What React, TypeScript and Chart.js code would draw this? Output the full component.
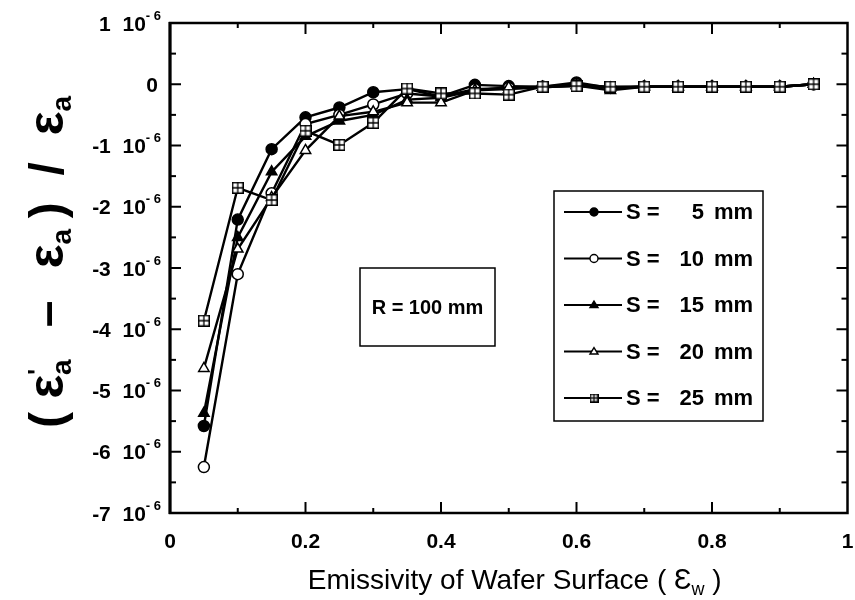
import { useEffect, useRef } from 'react';
import { Chart, registerables } from 'chart.js';

Chart.register(...registerables);

// Wafer surface emissivity (x axis)
const emissivity = [0.05, 0.1, 0.15, 0.2, 0.25, 0.3, 0.35, 0.4, 0.45, 0.5, 0.55, 0.6, 0.65, 0.7, 0.75, 0.8, 0.85, 0.9, 0.95];

// Relative apparent-emissivity error, in units of 10^-6
const s5 = [-5.58, -2.21, -1.06, -0.54, -0.38, -0.13, -0.08, -0.2, -0.01, -0.03, -0.04, 0.03, -0.06, -0.04, -0.04, -0.04, -0.04, -0.04, 0.0];
const s10 = [-6.25, -3.1, -1.78, -0.65, -0.5, -0.33, -0.15, -0.2, -0.08, -0.06, -0.04, 0.0, -0.05, -0.04, -0.04, -0.04, -0.04, -0.04, 0.0];
const s15 = [-5.37, -2.5, -1.43, -0.85, -0.6, -0.5, -0.25, -0.22, -0.1, -0.08, -0.05, -0.02, -0.1, -0.04, -0.04, -0.04, -0.04, -0.04, 0.0];
const s20 = [-4.64, -2.69, -1.85, -1.08, -0.52, -0.45, -0.3, -0.3, -0.1, -0.05, -0.05, -0.02, -0.06, -0.04, -0.04, -0.04, -0.04, -0.04, 0.0];
const s25 = [-3.86, -1.69, -1.89, -0.76, -0.99, -0.63, -0.07, -0.15, -0.15, -0.17, -0.04, -0.03, -0.04, -0.04, -0.04, -0.04, -0.04, -0.04, 0.0];

// Spacing S (mm) for each series
const spacingLabels = ['5', '10', '15', '20', '25'];

// Axis tick labels
const xTickLabels = ['0', '0.2', '0.4', '0.6', '0.8', '1'];
const yTickValues = [1, 0, -1, -2, -3, -4, -5, -6, -7];
const yExponent = '- 6';

const radiusLabel = 'R = 100 mm';

const FONT = '"Liberation Sans", Arial, Helvetica, sans-serif';

type Marker = 'filledCircle' | 'openCircle' | 'filledTriangle' | 'openTriangle' | 'boxCross';

function makeBoxCross(size: number): HTMLCanvasElement {
  const c = document.createElement('canvas');
  c.width = size;
  c.height = size;
  const g = c.getContext('2d')!;
  g.fillStyle = '#fff';
  g.fillRect(0, 0, size, size);
  g.strokeStyle = '#000';
  g.lineWidth = 1.5;
  g.strokeRect(0.75, 0.75, size - 1.5, size - 1.5);
  g.lineWidth = 1.3;
  g.beginPath();
  g.moveTo(size / 2, 1);
  g.lineTo(size / 2, size - 1);
  g.moveTo(1, size / 2);
  g.lineTo(size - 1, size / 2);
  g.stroke();
  return c;
}

function drawMarker(ctx: CanvasRenderingContext2D, kind: Marker, x: number, y: number, r: number, box: HTMLCanvasElement) {
  ctx.save();
  ctx.lineWidth = 1.4;
  ctx.strokeStyle = '#000';
  if (kind === 'filledCircle' || kind === 'openCircle') {
    ctx.beginPath();
    ctx.arc(x, y, r, 0, Math.PI * 2);
    ctx.fillStyle = kind === 'filledCircle' ? '#000' : '#fff';
    ctx.fill();
    ctx.stroke();
  } else if (kind === 'filledTriangle' || kind === 'openTriangle') {
    const h = r * 1.6;
    ctx.beginPath();
    ctx.moveTo(x, y - h * 0.6);
    ctx.lineTo(x + r, y + h * 0.4);
    ctx.lineTo(x - r, y + h * 0.4);
    ctx.closePath();
    ctx.fillStyle = kind === 'filledTriangle' ? '#000' : '#fff';
    ctx.fill();
    ctx.stroke();
  } else {
    ctx.drawImage(box, x - box.width / 2, y - box.height / 2);
  }
  ctx.restore();
}

// A run of text pieces; `gap` adds spacing weight after the piece,
// `overlapNext` keeps the pen in place so the next piece stacks on it.
type Part = { t: string; size: number; dy?: number; bold?: boolean; overlapNext?: boolean; gap?: number };

function fontOf(p: Part) {
  return `${p.bold ? 'bold ' : ''}${p.size}px ${FONT}`;
}

function glyphWidth(ctx: CanvasRenderingContext2D, parts: Part[]) {
  let w = 0;
  for (const p of parts) {
    ctx.font = fontOf(p);
    if (!p.overlapNext) w += ctx.measureText(p.t).width;
  }
  return w;
}

function drawParts(ctx: CanvasRenderingContext2D, parts: Part[], x: number, baseline: number, gapUnit = 0) {
  let cx = x;
  for (const p of parts) {
    ctx.font = fontOf(p);
    ctx.fillText(p.t, cx, baseline + (p.dy || 0));
    if (!p.overlapNext) cx += ctx.measureText(p.t).width;
    cx += (p.gap || 0) * gapUnit;
  }
}

export default function App() {
  const canvasRef = useRef<HTMLCanvasElement | null>(null);

  useEffect(() => {
    const canvas = canvasRef.current;
    if (!canvas) return;
    const boxCross = makeBoxCross(12);
    const legendBox = makeBoxCross(9);

    const series: number[][] = [s5, s10, s15, s20, s25];
    const markers: Marker[] = ['filledCircle', 'openCircle', 'filledTriangle', 'openTriangle', 'boxCross'];

    const datasets = series.map((vals, i) => {
      const m = markers[i];
      const filled = m === 'filledCircle' || m === 'filledTriangle';
      return {
        label: `S = ${spacingLabels[i]} mm`,
        data: vals.map((v, j) => ({ x: emissivity[j], y: v })),
        borderColor: '#000',
        borderWidth: 2.4,
        pointStyle: m === 'boxCross' ? boxCross : m.includes('Circle') ? 'circle' : 'triangle',
        pointRadius: m.includes('Triangle') ? 6 : 5.5,
        pointBorderWidth: 1.5,
        pointBorderColor: '#000',
        pointBackgroundColor: filled ? '#000' : '#fff',
        tension: 0,
        order: m === 'boxCross' ? 0 : 5 - i,
      };
    });

    const decorations = {
      id: 'decorations',
      afterDraw(chart: any) {
        const { ctx, chartArea: a } = chart;
        const xs = chart.scales.x;
        const ys = chart.scales.y;
        ctx.save();
        ctx.strokeStyle = '#000';
        ctx.fillStyle = '#000';

        const seg = (x1: number, y1: number, x2: number, y2: number) => {
          ctx.beginPath();
          ctx.moveTo(x1, y1);
          ctx.lineTo(x2, y2);
          ctx.stroke();
        };

        // inward ticks on all four sides
        ctx.lineWidth = 2;
        for (const t of xs.ticks) {
          const v = t.value;
          if (v <= 0 || v >= 1) continue;
          const px = xs.getPixelForValue(v);
          const major = Math.abs(v * 5 - Math.round(v * 5)) < 1e-6;
          const len = major ? 11 : 5;
          seg(px, a.bottom, px, a.bottom - len);
          seg(px, a.top, px, a.top + len);
        }
        for (const t of ys.ticks) {
          const v = t.value;
          if (v <= -7 || v >= 1) continue;
          const py = ys.getPixelForValue(v);
          const major = Math.abs(v - Math.round(v)) < 1e-6;
          const len = major ? 11 : 6;
          seg(a.left, py, a.left + len, py);
          seg(a.right, py, a.right - len, py);
        }

        // frame
        ctx.lineWidth = 2.5;
        ctx.strokeRect(a.left, a.top, a.right - a.left, a.bottom - a.top);
        ctx.lineWidth = 3;
        seg(a.left, a.top - 1, a.left, a.bottom + 1);

        // x tick labels
        ctx.font = `bold 21px ${FONT}`;
        ctx.textAlign = 'center';
        ctx.textBaseline = 'middle';
        xTickLabels.forEach((lab, i) => {
          const px = xs.getPixelForValue(i * 0.2);
          ctx.fillText(lab, px, 542);
        });

        // y tick labels with power-of-ten suffix
        ctx.textBaseline = 'alphabetic';
        ctx.textAlign = 'left';
        for (const v of yTickValues) {
          const py = ys.getPixelForValue(v);
          const base = py + 7.5;
          if (v === 0) {
            ctx.font = `bold 21px ${FONT}`;
            ctx.textAlign = 'right';
            ctx.fillText('0', 158, base);
            ctx.textAlign = 'left';
            continue;
          }
          const parts: Part[] = [
            { t: `${v}  10`, size: 21, bold: true },
            { t: yExponent, size: 13, bold: true, dy: -11 },
          ];
          const w = glyphWidth(ctx, parts);
          drawParts(ctx, parts, 161 - w, base);
        }

        // x axis title
        const xt: Part[] = [
          { t: 'Emissivity of Wafer Surface ( ', size: 28 },
          { t: 'Ɛ', size: 29 },
          { t: 'w', size: 18, dy: 6 },
          { t: ' )', size: 28 },
        ];
        const xtw = glyphWidth(ctx, xt);
        drawParts(ctx, xt, (a.left + a.right) / 2 - xtw / 2 + 6, 589);

        // y axis title, rotated, spread over a fixed length
        const yt: Part[] = [
          { t: '(', size: 48, bold: true, gap: 0.5 },
          { t: 'ε', size: 50, bold: true },
          { t: "'", size: 26, bold: true, dy: -17, overlapNext: true },
          { t: 'a', size: 28, bold: true, dy: 8, gap: 1.2 },
          { t: '–', size: 48, bold: true, gap: 1.2 },
          { t: 'ε', size: 50, bold: true },
          { t: 'a', size: 28, bold: true, dy: 8, gap: 0.4 },
          { t: ')', size: 48, bold: true, gap: 1.0 },
          { t: '/', size: 48, bold: true, gap: 1.0 },
          { t: 'ε', size: 50, bold: true },
          { t: 'a', size: 28, bold: true, dy: 8 },
        ];
        const targetLen = 332;
        const natural = glyphWidth(ctx, yt);
        const weights = yt.reduce((s, p) => s + (p.gap || 0), 0);
        const unit = Math.max(0, (targetLen - natural) / weights);
        ctx.save();
        ctx.translate(47, 262);
        ctx.rotate(-Math.PI / 2);
        drawParts(ctx, yt, -targetLen / 2, 16, unit);
        ctx.restore();

        // annotation box
        const bx = 360, by = 268, bw = 135, bh = 78;
        ctx.lineWidth = 1.5;
        ctx.fillStyle = '#fff';
        ctx.fillRect(bx, by, bw, bh);
        ctx.strokeRect(bx, by, bw, bh);
        ctx.fillStyle = '#000';
        ctx.font = `bold 20px ${FONT}`;
        ctx.textAlign = 'center';
        ctx.textBaseline = 'middle';
        ctx.fillText(radiusLabel, bx + bw / 2, by + bh / 2 + 1);

        // legend
        ctx.fillStyle = '#fff';
        ctx.fillRect(554, 191, 209, 230);
        ctx.strokeRect(554, 191, 209, 230);
        ctx.fillStyle = '#000';
        spacingLabels.forEach((lab, i) => {
          const ry = 212 + i * 46.5;
          ctx.lineWidth = 1.8;
          seg(564, ry, 622, ry);
          drawMarker(ctx, markers[i], 594, ry, 4, legendBox);
          ctx.font = `bold 22px ${FONT}`;
          ctx.textBaseline = 'middle';
          ctx.textAlign = 'left';
          ctx.fillText('S =', 626, ry + 1);
          ctx.textAlign = 'right';
          ctx.fillText(lab, 704, ry + 1);
          ctx.textAlign = 'left';
          ctx.fillText('mm', 714, ry + 1);
        });

        ctx.restore();
      },
    };

    const chart = new Chart(canvas, {
      type: 'line',
      data: { datasets: datasets as any },
      options: {
        responsive: false,
        animation: false,
        layout: { padding: { left: 0, right: 3, top: 23, bottom: 0 } },
        plugins: {
          legend: { display: false },
          tooltip: { enabled: false },
        },
        scales: {
          x: {
            type: 'linear',
            min: 0,
            max: 1,
            ticks: { stepSize: 0.1, display: false },
            grid: { display: false },
            border: { display: false },
            afterFit: (s: any) => {
              s.height = 87;
            },
          },
          y: {
            type: 'linear',
            min: -7,
            max: 1,
            ticks: { stepSize: 0.5, display: false },
            grid: { display: false },
            border: { display: false },
            afterFit: (s: any) => {
              s.width = 170;
            },
          },
        },
      },
      plugins: [decorations],
    });

    return () => chart.destroy();
  }, []);

  return (
    <div style={{ position: 'fixed', left: 0, top: 0, width: 855, height: 600, background: '#fff' }}>
      <canvas ref={canvasRef} width={855} height={600} style={{ display: 'block' }} />
    </div>
  );
}
